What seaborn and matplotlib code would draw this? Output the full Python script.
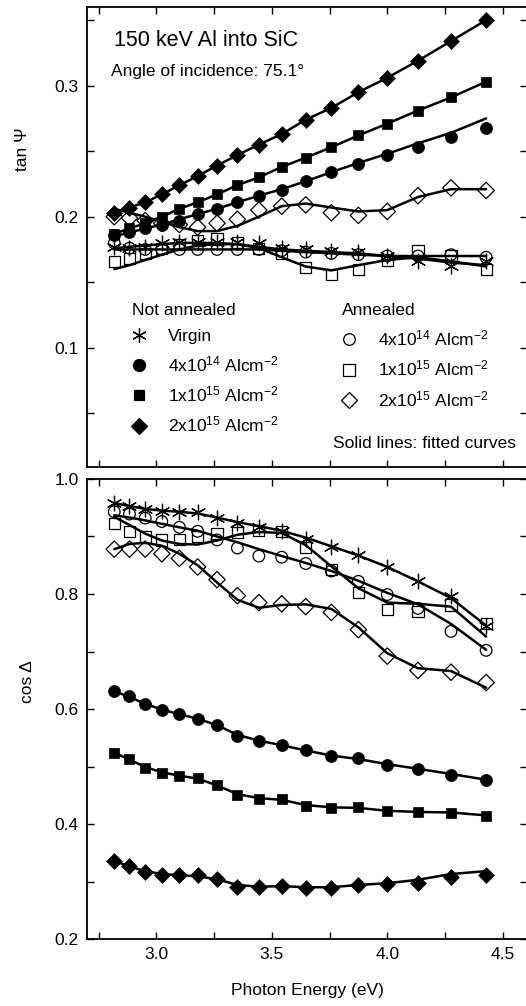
import matplotlib
matplotlib.use("Agg")
import matplotlib.pyplot as plt
from matplotlib.lines import Line2D
import seaborn as sns

# %% Data (photon energy, eV)
energy = [2.818, 2.884, 2.952, 3.024, 3.100, 3.179, 3.263, 3.351, 3.444,
          3.543, 3.647, 3.758, 3.875, 4.000, 4.133, 4.276, 4.428]

# tan Psi, not annealed
tp_virgin = [0.177, 0.176, 0.177, 0.180, 0.181, 0.181, 0.181, 0.181, 0.180,
             0.176, 0.175, 0.174, 0.173, 0.170, 0.166, 0.162, 0.166]
tp_4e14 = [0.186, 0.188, 0.191, 0.194, 0.197, 0.202, 0.206, 0.211, 0.216,
           0.220, 0.227, 0.234, 0.240, 0.247, 0.253, 0.261, 0.268]
tp_1e15 = [0.187, 0.191, 0.195, 0.200, 0.206, 0.211, 0.217, 0.224, 0.230,
           0.238, 0.245, 0.253, 0.262, 0.271, 0.281, 0.291, 0.303]
tp_2e15 = [0.203, 0.207, 0.211, 0.217, 0.224, 0.231, 0.239, 0.247, 0.255,
           0.263, 0.274, 0.283, 0.295, 0.306, 0.319, 0.334, 0.350]
# tan Psi, annealed
tp_a4e14 = [0.180, 0.176, 0.175, 0.175, 0.175, 0.175, 0.175, 0.175, 0.175,
            0.174, 0.173, 0.172, 0.171, 0.170, 0.170, 0.171, 0.169]
tp_a1e15 = [0.166, 0.168, 0.172, 0.176, 0.179, 0.182, 0.183, 0.180, 0.176,
            0.172, 0.161, 0.156, 0.160, 0.167, 0.174, 0.170, 0.160]
tp_a2e15 = [0.200, 0.199, 0.197, 0.195, 0.194, 0.192, 0.195, 0.198, 0.205,
            0.208, 0.209, 0.203, 0.201, 0.204, 0.216, 0.222, 0.220]

# tan Psi fitted curves
tpf_virgin = [0.176, 0.177, 0.178, 0.179, 0.180, 0.180, 0.180, 0.179, 0.177,
              0.175, 0.174, 0.173, 0.172, 0.170, 0.168, 0.165, 0.163]
tpf_4e14 = [0.185, 0.188, 0.191, 0.194, 0.198, 0.202, 0.206, 0.211, 0.216,
            0.221, 0.227, 0.234, 0.241, 0.248, 0.256, 0.264, 0.275]
tpf_1e15 = [0.187, 0.191, 0.195, 0.200, 0.206, 0.211, 0.217, 0.224, 0.230,
            0.238, 0.245, 0.253, 0.262, 0.271, 0.281, 0.291, 0.303]
tpf_2e15 = [0.203, 0.207, 0.211, 0.217, 0.224, 0.231, 0.239, 0.247, 0.255,
            0.263, 0.274, 0.283, 0.295, 0.306, 0.319, 0.334, 0.350]
tpf_a4e14 = [0.175, 0.175, 0.175, 0.175, 0.175, 0.175, 0.175, 0.175, 0.175,
             0.174, 0.173, 0.172, 0.171, 0.170, 0.170, 0.170, 0.170]
tpf_a1e15 = [0.160, 0.163, 0.167, 0.171, 0.175, 0.178, 0.179, 0.179, 0.176,
             0.169, 0.162, 0.159, 0.163, 0.167, 0.169, 0.166, 0.162]
tpf_a2e15 = [0.206, 0.203, 0.200, 0.196, 0.192, 0.189, 0.189, 0.193, 0.200,
             0.208, 0.210, 0.207, 0.204, 0.205, 0.215, 0.221, 0.221]

# cos Delta, not annealed
cd_virgin = [0.958, 0.953, 0.947, 0.945, 0.943, 0.942, 0.932, 0.924, 0.917,
             0.910, 0.896, 0.881, 0.868, 0.847, 0.822, 0.796, 0.745]
cd_4e14 = [0.631, 0.622, 0.609, 0.598, 0.592, 0.583, 0.573, 0.553, 0.544,
           0.538, 0.528, 0.518, 0.514, 0.503, 0.496, 0.486, 0.477]
cd_1e15 = [0.524, 0.513, 0.498, 0.489, 0.483, 0.480, 0.468, 0.451, 0.444,
           0.443, 0.432, 0.428, 0.429, 0.422, 0.421, 0.420, 0.414]
cd_2e15 = [0.336, 0.327, 0.317, 0.312, 0.311, 0.311, 0.305, 0.291, 0.290,
           0.292, 0.288, 0.288, 0.294, 0.295, 0.297, 0.307, 0.311]
# cos Delta, annealed
cd_a4e14 = [0.943, 0.939, 0.932, 0.926, 0.916, 0.909, 0.894, 0.880, 0.866,
            0.864, 0.853, 0.840, 0.822, 0.799, 0.775, 0.735, 0.702]
cd_a1e15 = [0.923, 0.909, 0.899, 0.894, 0.895, 0.900, 0.905, 0.907, 0.910,
            0.909, 0.881, 0.842, 0.802, 0.773, 0.770, 0.781, 0.749]
cd_a2e15 = [0.878, 0.878, 0.878, 0.870, 0.862, 0.847, 0.825, 0.797, 0.785,
            0.783, 0.778, 0.768, 0.738, 0.692, 0.667, 0.664, 0.646]

# cos Delta fitted curves
cdf_virgin = [0.958, 0.953, 0.948, 0.945, 0.943, 0.940, 0.933, 0.925, 0.918,
              0.910, 0.898, 0.883, 0.867, 0.847, 0.822, 0.793, 0.745]
cdf_4e14 = [0.631, 0.621, 0.609, 0.599, 0.591, 0.583, 0.572, 0.555, 0.545,
            0.537, 0.528, 0.519, 0.513, 0.504, 0.496, 0.487, 0.477]
cdf_1e15 = [0.524, 0.512, 0.499, 0.490, 0.484, 0.479, 0.467, 0.452, 0.445,
            0.442, 0.433, 0.429, 0.428, 0.423, 0.421, 0.420, 0.415]
cdf_2e15 = [0.336, 0.326, 0.318, 0.313, 0.311, 0.309, 0.304, 0.294, 0.291,
            0.292, 0.290, 0.290, 0.294, 0.297, 0.303, 0.313, 0.318]
cdf_a4e14 = [0.937, 0.933, 0.928, 0.922, 0.916, 0.910, 0.900, 0.890, 0.878,
             0.866, 0.854, 0.840, 0.823, 0.802, 0.782, 0.748, 0.703]
cdf_a1e15 = [0.934, 0.920, 0.905, 0.893, 0.887, 0.886, 0.893, 0.903, 0.908,
             0.906, 0.885, 0.848, 0.810, 0.785, 0.783, 0.778, 0.726]
cdf_a2e15 = [0.878, 0.887, 0.889, 0.884, 0.870, 0.850, 0.820, 0.790, 0.776,
             0.781, 0.782, 0.774, 0.742, 0.697, 0.671, 0.666, 0.637]

labels_not = ["Virgin", "4x10$^{14}$ Alcm$^{-2}$",
              "1x10$^{15}$ Alcm$^{-2}$", "2x10$^{15}$ Alcm$^{-2}$"]
labels_ann = ["4x10$^{14}$ Alcm$^{-2}$", "1x10$^{15}$ Alcm$^{-2}$",
              "2x10$^{15}$ Alcm$^{-2}$"]

# %% Style
sns.set_theme(style="ticks")
plt.rcParams["font.family"] = ["Liberation Sans", "DejaVu Sans"]
plt.rcParams["mathtext.fontset"] = "custom"
plt.rcParams["mathtext.rm"] = "Liberation Sans"
plt.rcParams["mathtext.default"] = "regular"
plt.rcParams["axes.linewidth"] = 1.3
for key in ["text.color", "axes.labelcolor", "xtick.color", "ytick.color",
            "axes.edgecolor"]:
    plt.rcParams[key] = "black"

star = (6, 2, 0)
# (marker, filled, size)
styles = [(star, False, 110), ("o", True, 75), ("s", True, 62), ("D", True, 65),
          ("o", False, 70), ("s", False, 65), ("D", False, 70)]


def draw(ax, pts, fits):
    for (mk, filled, s), y, yf in zip(styles, pts, fits):
        sns.lineplot(x=energy, y=yf, color="black", linewidth=1.8, ax=ax,
                     legend=False, zorder=2)
        if mk == star:
            sns.scatterplot(x=energy, y=y, marker=mk, s=s, color="black",
                            linewidth=0.9, ax=ax, legend=False, zorder=3)
        elif filled:
            sns.scatterplot(x=energy, y=y, marker=mk, s=s, color="black",
                            edgecolor="black", linewidth=0.5, ax=ax,
                            legend=False, zorder=3)
        else:
            sns.scatterplot(x=energy, y=y, marker=mk, s=s, color="none",
                            edgecolor="black", linewidth=0.9, ax=ax,
                            legend=False, zorder=3)


def style_axis(ax):
    ax.set_xlim(2.7, 4.605)
    ax.set_xticks([3.0, 3.5, 4.0, 4.5])
    ax.set_xticks([2.75, 3.25, 3.75, 4.25], minor=True)
    ax.tick_params(which="both", direction="in", top=True, right=True,
                   length=5, width=1.0, labelsize=12.5, pad=6)
    for sp in ax.spines.values():
        sp.set_visible(True)
        sp.set_color("black")


fig = plt.figure(figsize=(5.26, 10.06), dpi=100)
ax1 = fig.add_axes([87 / 526, 1 - 467 / 1006, 440 / 526, 460 / 1006])
ax2 = fig.add_axes([87 / 526, 1 - 939 / 1006, 440 / 526, 460 / 1006])

# %% Top panel: tan Psi
draw(ax1,
     [tp_virgin, tp_4e14, tp_1e15, tp_2e15, tp_a4e14, tp_a1e15, tp_a2e15],
     [tpf_virgin, tpf_4e14, tpf_1e15, tpf_2e15, tpf_a4e14, tpf_a1e15, tpf_a2e15])
style_axis(ax1)
ax1.set_ylim(0.009, 0.36)
ax1.set_yticks([0.1, 0.2, 0.3])
ax1.set_yticks([0.05, 0.15, 0.25, 0.35], minor=True)
ax1.tick_params(labelbottom=False)
ax1.set_xlabel("")
ax1.set_ylabel("tan Ψ", fontsize=12.5)
ax1.yaxis.set_label_coords(-0.13, 0.69)

ax1.text(0.061, 0.928, "150 keV Al into SiC", transform=ax1.transAxes,
         fontsize=15.5, va="center", ha="left")
ax1.text(0.055, 0.859, "Angle of incidence: 75.1°", transform=ax1.transAxes,
         fontsize=12.5, va="center", ha="left")
ax1.text(0.975, 0.052, "Solid lines: fitted curves", transform=ax1.transAxes,
         fontsize=12.5, va="center", ha="right")


def handle(mk, filled, s):
    ms = s ** 0.5
    if mk == star:
        return Line2D([], [], marker=mk, linestyle="none", color="black",
                      markersize=ms, markeredgewidth=0.9)
    fc = "black" if filled else "none"
    return Line2D([], [], marker=mk, linestyle="none", markerfacecolor=fc,
                  markeredgecolor="black", markersize=ms, markeredgewidth=0.9)


h_not = [handle(*st) for st in styles[:4]]
h_ann = [handle(*st) for st in styles[4:]]
leg_kw = dict(frameon=False, fontsize=12.5, title_fontsize=12.5,
              alignment="left", borderpad=0, handlelength=0.8,
              handletextpad=1.3, labelspacing=0.6, loc="upper left")
leg1 = ax1.legend(h_not, labels_not, title="Not annealed",
                  bbox_to_anchor=(0.082, 0.375), **leg_kw)
ax1.add_artist(leg1)
ax1.legend(h_ann, labels_ann, title="Annealed",
           bbox_to_anchor=(0.559, 0.375), **leg_kw)

# %% Bottom panel: cos Delta
draw(ax2,
     [cd_virgin, cd_4e14, cd_1e15, cd_2e15, cd_a4e14, cd_a1e15, cd_a2e15],
     [cdf_virgin, cdf_4e14, cdf_1e15, cdf_2e15, cdf_a4e14, cdf_a1e15, cdf_a2e15])
style_axis(ax2)
ax2.set_ylim(0.2, 1.0)
ax2.set_yticks([0.2, 0.4, 0.6, 0.8, 1.0])
ax2.set_yticks([0.3, 0.5, 0.7, 0.9], minor=True)
ax2.set_ylabel("cos Δ", fontsize=12.5)
ax2.yaxis.set_label_coords(-0.118, 0.56)
ax2.set_xlabel("Photon Energy (eV)", fontsize=12.5, labelpad=15)

fig.savefig("out.png", dpi=100)
